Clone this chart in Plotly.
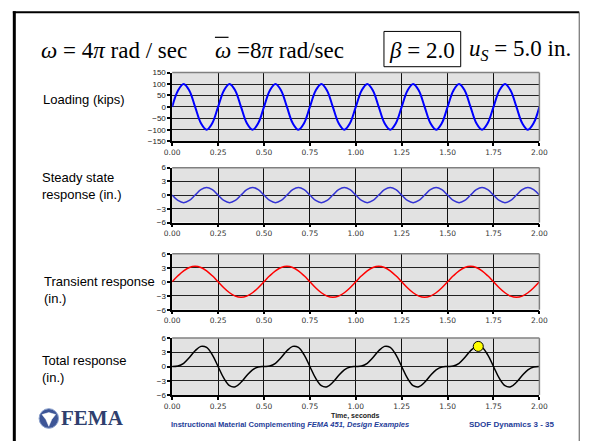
import plotly.graph_objects as go

# ---- data ----
time_s = [0.0, 0.03125, 0.0625, 0.09375, 0.125, 0.15625, 0.1875, 0.21875,
          0.25, 0.28125, 0.3125, 0.34375, 0.375, 0.40625, 0.4375, 0.46875,
          0.5, 0.53125, 0.5625, 0.59375, 0.625, 0.65625, 0.6875, 0.71875,
          0.75, 0.78125, 0.8125, 0.84375, 0.875, 0.90625, 0.9375, 0.96875,
          1.0, 1.03125, 1.0625, 1.09375, 1.125, 1.15625, 1.1875, 1.21875,
          1.25, 1.28125, 1.3125, 1.34375, 1.375, 1.40625, 1.4375, 1.46875,
          1.5, 1.53125, 1.5625, 1.59375, 1.625, 1.65625, 1.6875, 1.71875,
          1.75, 1.78125, 1.8125, 1.84375, 1.875, 1.90625, 1.9375, 1.96875, 2.0]

loading_kips = [0, 71, 100, 71, 0, -71, -100, -71,
                0, 71, 100, 71, 0, -71, -100, -71,
                0, 71, 100, 71, 0, -71, -100, -71,
                0, 71, 100, 71, 0, -71, -100, -71,
                0, 71, 100, 71, 0, -71, -100, -71,
                0, 71, 100, 71, 0, -71, -100, -71,
                0, 71, 100, 71, 0, -71, -100, -71,
                0, 71, 100, 71, 0, -71, -100, -71, 0]

steady_in = [0, -1.18, -1.67, -1.18, 0, 1.18, 1.67, 1.18,
             0, -1.18, -1.67, -1.18, 0, 1.18, 1.67, 1.18,
             0, -1.18, -1.67, -1.18, 0, 1.18, 1.67, 1.18,
             0, -1.18, -1.67, -1.18, 0, 1.18, 1.67, 1.18,
             0, -1.18, -1.67, -1.18, 0, 1.18, 1.67, 1.18,
             0, -1.18, -1.67, -1.18, 0, 1.18, 1.67, 1.18,
             0, -1.18, -1.67, -1.18, 0, 1.18, 1.67, 1.18,
             0, -1.18, -1.67, -1.18, 0, 1.18, 1.67, 1.18, 0]

transient_in = [0, 1.28, 2.36, 3.08, 3.33, 3.08, 2.36, 1.28,
                0, -1.28, -2.36, -3.08, -3.33, -3.08, -2.36, -1.28,
                0, 1.28, 2.36, 3.08, 3.33, 3.08, 2.36, 1.28,
                0, -1.28, -2.36, -3.08, -3.33, -3.08, -2.36, -1.28,
                0, 1.28, 2.36, 3.08, 3.33, 3.08, 2.36, 1.28,
                0, -1.28, -2.36, -3.08, -3.33, -3.08, -2.36, -1.28,
                0, 1.28, 2.36, 3.08, 3.33, 3.08, 2.36, 1.28,
                0, -1.28, -2.36, -3.08, -3.33, -3.08, -2.36, -1.28, 0]

total_in = [0, 0.10, 0.69, 1.90, 3.33, 4.26, 4.03, 2.46,
            0, -2.46, -4.03, -4.26, -3.33, -1.90, -0.69, -0.10,
            0, 0.10, 0.69, 1.90, 3.33, 4.26, 4.03, 2.46,
            0, -2.46, -4.03, -4.26, -3.33, -1.90, -0.69, -0.10,
            0, 0.10, 0.69, 1.90, 3.33, 4.26, 4.03, 2.46,
            0, -2.46, -4.03, -4.26, -3.33, -1.90, -0.69, -0.10,
            0, 0.10, 0.69, 1.90, 3.33, 4.26, 4.03, 2.46,
            0, -2.46, -4.03, -4.26, -3.33, -1.90, -0.69, -0.10, 0]

marker_t = [1.667]
marker_u = [4.25]

x_ticks = [0, 0.25, 0.5, 0.75, 1.0, 1.25, 1.5, 1.75, 2.0]
x_tick_text = ["0.00", "0.25", "0.50", "0.75", "1.00", "1.25", "1.50", "1.75", "2.00"]
load_ticks = [-150, -100, -50, 0, 50, 100, 150]
resp_ticks = [-6, -3, 0, 3, 6]

panel_labels = ["Loading (kips)", "Steady state<br>response (in.)",
                "Transient response<br>(in.)", "Total response<br>(in.)"]

# ---- layout helpers ----
W, H = 596, 446
def px(x):
    return x / W
def py(y):
    return 1 - y / H

x_dom = [px(169), px(547)]
y_doms = [[py(140), py(70)], [py(223), py(167)], [py(312), py(255)], [py(399), py(341)]]

fig = go.Figure()

series = [
    (loading_kips, "#0000FF", 2.0),
    (steady_in, "#3434D4", 1.5),
    (transient_in, "#FF0000", 1.5),
    (total_in, "#000000", 1.5),
]
for i, (vals, col, lw) in enumerate(series):
    sfx = "" if i == 0 else str(i + 1)
    fig.add_trace(go.Scatter(x=time_s, y=vals, mode="lines",
                             line=dict(color=col, width=lw, shape="spline", smoothing=1.0),
                             xaxis="x" + sfx, yaxis="y" + sfx, showlegend=False,
                             hoverinfo="skip"))

fig.add_trace(go.Scatter(x=marker_t, y=marker_u, mode="markers",
                         marker=dict(size=10, color="#FFFF00", line=dict(color="#000000", width=1)),
                         xaxis="x4", yaxis="y4", showlegend=False, hoverinfo="skip"))

tickfont_x = dict(family="DejaVu Sans", size=7.5, color="#333333")
tickfont_y = dict(family="Liberation Sans, Arial", size=8, color="#222222")

layout_axes = {}
for i in range(4):
    sfx = "" if i == 0 else str(i + 1)
    layout_axes["xaxis" + sfx] = dict(
        domain=x_dom, anchor="y" + sfx, range=[0, 2],
        tickvals=x_ticks, ticktext=x_tick_text, tickfont=tickfont_x,
        showgrid=True, gridcolor="#111111", gridwidth=1,
        showline=True, linecolor="#000000", linewidth=1.5,
        ticks="outside", ticklen=3, tickcolor="#000000", tickwidth=1.5,
        zeroline=False, fixedrange=True,
    )
    if i == 0:
        yr, yt = [-150, 150], load_ticks
    else:
        yr, yt = [-6, 6], resp_ticks
    layout_axes["yaxis" + sfx] = dict(
        domain=y_doms[i], anchor="x" + sfx, range=yr,
        tickvals=yt, tickfont=tickfont_y,
        showgrid=True, gridcolor="#222222", gridwidth=1,
        showline=True, linecolor="#000000", linewidth=1.5,
        ticks="outside", ticklen=3, tickcolor="#000000", tickwidth=1.5,
        zeroline=False, fixedrange=True,
    )

shapes = []
for i in range(4):
    sfx = "" if i == 0 else str(i + 1)
    shapes.append(dict(type="line", xref="x" + sfx + " domain", yref="y" + sfx + " domain",
                       x0=0, x1=1, y0=1, y1=1, line=dict(color="#808080", width=1.5)))
    shapes.append(dict(type="line", xref="x" + sfx + " domain", yref="y" + sfx + " domain",
                       x0=1, x1=1, y0=0, y1=1, line=dict(color="#808080", width=1.5)))

# slide frame
shapes.append(dict(type="line", xref="paper", yref="paper", x0=px(5), x1=px(588),
                   y0=py(8.5), y1=py(8.5), line=dict(color="#000000", width=2)))
shapes.append(dict(type="line", xref="paper", yref="paper", x0=px(6.5), x1=px(6.5),
                   y0=py(7.5), y1=0, line=dict(color="#000000", width=3)))
shapes.append(dict(type="line", xref="paper", yref="paper", x0=px(588), x1=px(588),
                   y0=py(8.5), y1=0, line=dict(color="#555555", width=1)))
# beta box
shapes.append(dict(type="rect", xref="paper", yref="paper", x0=px(387), x1=px(466),
                   y0=py(64), y1=py(28), line=dict(color="#000000", width=1)))
# overbar on second omega
shapes.append(dict(type="line", xref="paper", yref="paper", x0=px(213), x1=px(227),
                   y0=py(34), y1=py(34), line=dict(color="#000000", width=1.2)))
# FEMA seal
shapes.append(dict(type="circle", xref="paper", yref="paper", x0=px(32), x1=px(52),
                   y0=py(433), y1=py(413), line=dict(color="#8aa0cc", width=1),
                   fillcolor="#3d5596"))
shapes.append(dict(type="path", xref="paper", yref="paper",
                   path=(f"M {px(35)},{py(419)} L {px(42)},{py(417)} L {px(49)},{py(419)} "
                         f"L {px(45)},{py(424)} L {px(42)},{py(431)} L {px(39)},{py(424)} Z"),
                   fillcolor="#ffffff", line=dict(color="#ffffff", width=0.5)))

serif = "Liberation Serif, Times New Roman, serif"
sans = "Liberation Sans, Arial, sans-serif"
hdr = dict(family=serif, size=23, color="#000000")
annotations = [
    dict(text="<i>ω</i> = 4<i>π</i> rad / sec", x=px(32), y=py(47), xanchor="left", yanchor="middle",
         font=hdr),
    dict(text="<i>ω</i> =8<i>π</i> rad/sec", x=px(211), y=py(47), xanchor="left", yanchor="middle",
         font=hdr),
    dict(text="<i>β</i> = 2.0", x=px(426.5), y=py(47), xanchor="center", yanchor="middle",
         font=hdr),
    dict(text="<i>u</i><sub><i>S</i></sub>\u00a0= 5.0 in.", x=px(472), y=py(47), xanchor="left",
         yanchor="middle", font=hdr),
    dict(text="<b>Time, seconds</b>", x=(x_dom[0] + x_dom[1]) / 2, y=py(420), xanchor="center", yanchor="middle",
         font=dict(family=sans, size=7, color="#222222")),
    dict(text="<b>Instructional Material Complementing <i>FEMA 451, Design Examples</i></b>",
         x=px(290), y=py(429.5), xanchor="center", yanchor="middle",
         font=dict(family=sans, size=7.5, color="#1f3d99")),
    dict(text="<b>SDOF Dynamics 3 - 35</b>", x=px(518), y=py(429), xanchor="center", yanchor="middle",
         font=dict(family=sans, size=8, color="#1f3d99")),
    dict(text="<b>FEMA</b>", x=px(53), y=py(423), xanchor="left", yanchor="middle",
         font=dict(family=serif, size=21, color="#2f3f6e")),
]
label_pos = [(34, 97), (33, 185.5), (35, 291.5), (33, 373)]
for lab, (lx, ly) in zip(panel_labels, label_pos):
    annotations.append(dict(text=lab, x=px(lx), y=py(ly), xanchor="left", yanchor="middle",
                            align="left", font=dict(family=sans, size=13, color="#000000")))
for a in annotations:
    a.setdefault("xref", "paper")
    a.setdefault("yref", "paper")
    a.setdefault("showarrow", False)

fig.update_layout(
    width=W, height=H, margin=dict(l=0, r=0, t=0, b=0),
    paper_bgcolor="#ffffff", plot_bgcolor="#e2e2e2",
    shapes=shapes, annotations=annotations, showlegend=False,
    **layout_axes,
)

fig.write_html("out.html", config={"displayModeBar": False},
               post_script="document.body.style.margin='0';document.body.style.overflow='hidden';")
